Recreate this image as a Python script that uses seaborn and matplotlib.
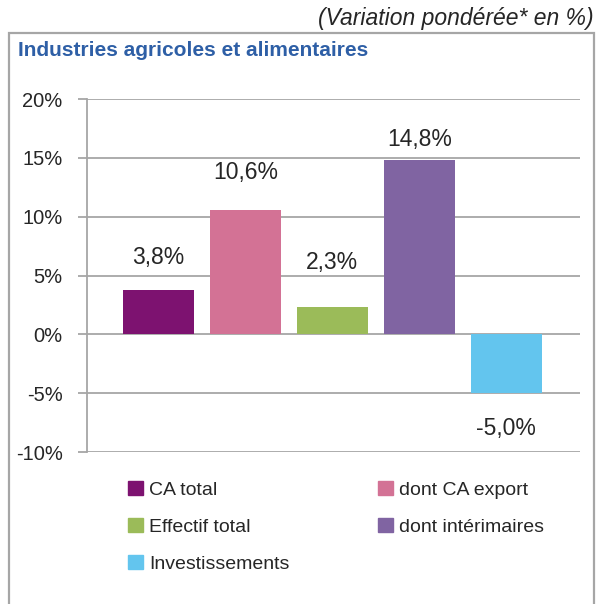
import matplotlib
matplotlib.use("Agg")
import matplotlib.pyplot as plt
import seaborn as sns
import pandas as pd
from matplotlib.patches import Rectangle

categories = ["CA total", "dont CA export", "Effectif total", "dont intérimaires", "Investissements"]
values = [3.8, 10.6, 2.3, 14.8, -5.0]
labels = ["3,8%", "10,6%", "2,3%", "14,8%", "-5,0%"]
colors = ["#7D1270", "#D37295", "#9BBB59", "#8064A2", "#63C5EE"]
yticks = [-10, -5, 0, 5, 10, 15, 20]
ytick_labels = ["-10%", "-5%", "0%", "5%", "10%", "15%", "20%"]
# vertical offset (points) of each value label from its bar end (layout only)
label_offsets = [23, 26.6, 32.4, 15.1, -25.5]

sns.set_theme(style="white")
plt.rcParams["font.family"] = ["Liberation Sans", "DejaVu Sans"]

W, H = 600, 604
fig = plt.figure(figsize=(W / 100, H / 100), dpi=100)
ax = fig.add_axes([87 / W, 1 - 452 / H, (580 - 87) / W, (452 - 99) / H])

df = pd.DataFrame({"cat": categories, "val": values})
sns.barplot(data=df, x="cat", y="val", hue="cat", palette=colors, dodge=False,
            width=0.817, legend=False, ax=ax, order=categories, hue_order=categories,
            saturation=1, linewidth=0, edgecolor="none")

ax.set_xlim(-0.823, 4.85)
ax.set_ylim(-10, 20)
ax.set_yticks(yticks)
ax.set_yticklabels(ytick_labels, fontsize=14.5)
ax.set_xticks([])
ax.set_xlabel("")
ax.set_ylabel("")
ax.yaxis.grid(True, color="#A6A6A6", linewidth=1.3)
ax.set_axisbelow(True)
for s in ["top", "right", "bottom"]:
    ax.spines[s].set_visible(False)
ax.spines["left"].set_color("#A6A6A6")
ax.spines["left"].set_linewidth(1.3)
ax.tick_params(axis="y", length=6.5, color="#A6A6A6", width=1.3, pad=11, left=True)

for i, (v, lab) in enumerate(zip(values, labels)):
    ax.annotate(lab, (i, v), xytext=(0, label_offsets[i]), textcoords="offset points",
                ha="center", va="center", fontsize=16.5)

# Legend (row-wise order in 2 columns)
order = [0, 2, 4, 1, 3]
handles = [Rectangle((0, 0), 1, 1, color=colors[i]) for i in order]
leg_labels = [categories[i] for i in order]
leg = fig.legend(handles, leg_labels, ncol=2, loc="upper left",
                 bbox_to_anchor=(128 / W, 1 - 481 / H), frameon=False, fontsize=14,
                 handlelength=0.77, handleheight=0.77, handletextpad=0.33,
                 columnspacing=4.54, labelspacing=0.97, borderpad=0, borderaxespad=0)

# Outer border
fig.patches.append(Rectangle((8.5 / W, -0.01), (594 - 8.5) / W, 1 - 32.5 / H + 0.01,
                             transform=fig.transFigure, fill=False,
                             edgecolor="#A6A6A6", linewidth=1.6))

fig.text(18 / W, 1 - 51 / H, "Industries agricoles et alimentaires",
         color="#2E5FA6", fontsize=15, fontweight="bold", va="center", ha="left")
fig.text(594 / W, 1 - 19 / H, "(Variation pondérée* en %)",
         fontsize=16.5, style="italic", ha="right", va="center")

fig.savefig("out.png", dpi=100)
